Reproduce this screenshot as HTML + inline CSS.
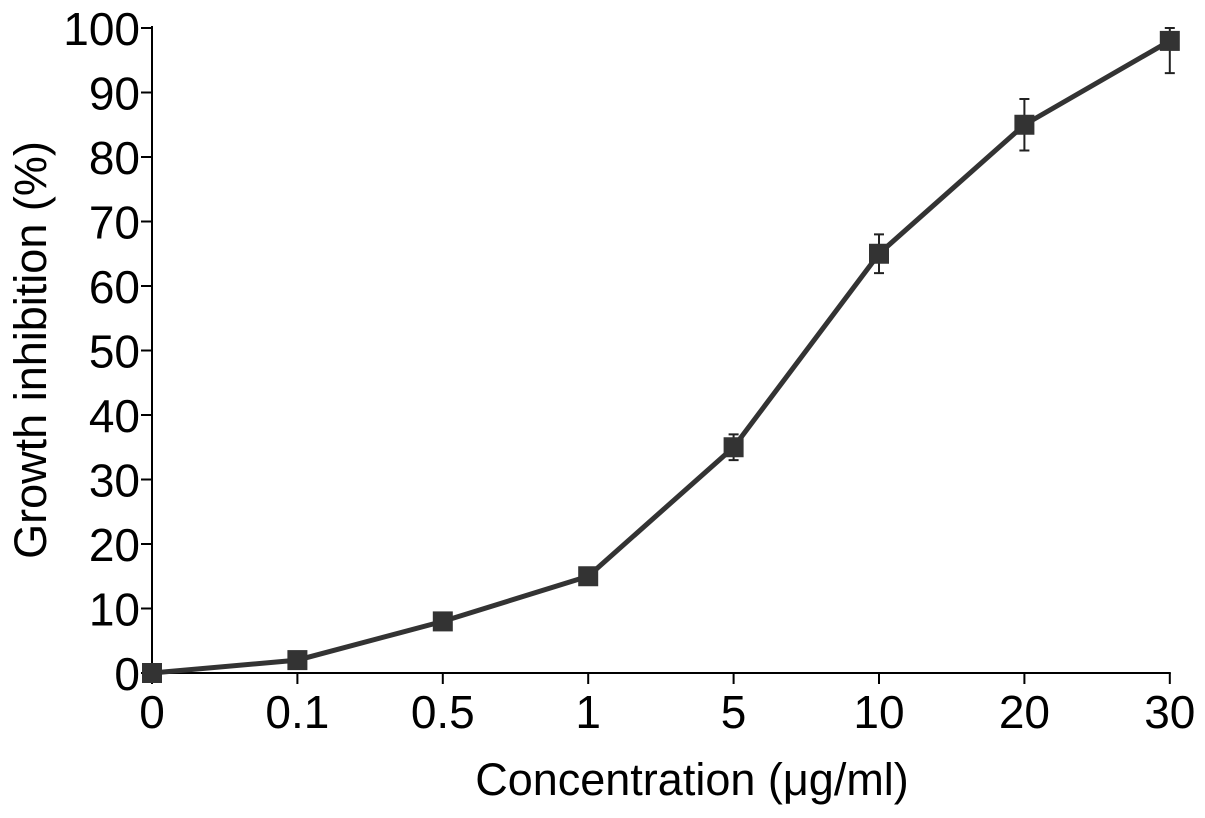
<!DOCTYPE html>
<html><head><meta charset="utf-8"><style>
body{margin:0;background:#fff;width:1205px;height:813px;overflow:hidden}
text{font-family:"Liberation Sans",Arial,sans-serif;fill:#000}
</style></head><body>
<svg id="chart" width="1205" height="813" viewBox="0 0 1205 813">
<g id="axes"></g><g id="series"></g>
<text x="692" y="795" font-size="45" text-anchor="middle">Concentration (μg/ml)</text>
<text transform="translate(46,350) rotate(-90)" font-size="45" text-anchor="middle">Growth inhibition (%)</text>
</svg>
<script>
const categories=["0","0.1","0.5","1","5","10","20","30"];
const values=[0,2,8,15,35,65,85,98];
const errors=[0,0,0,0,2,3,4,5];
const yTicks=[0,10,20,30,40,50,60,70,80,90,100];
const NS="http://www.w3.org/2000/svg";
const x0=152,dx=145.4,yB=673,yT=28;
const xs=i=>x0+i*dx;
const ys=v=>yB-(v/100)*(yB-yT);
function mk(tag,attrs,parent,txt){const e=document.createElementNS(NS,tag);for(const k in attrs)e.setAttribute(k,attrs[k]);if(txt!==undefined)e.textContent=txt;parent.appendChild(e);return e;}
const ax=document.getElementById('axes'),se=document.getElementById('series');
let l=mk('line',{x1:x0,y1:yB,x2:xs(categories.length-1)+1,y2:yB,stroke:'#000','stroke-width':2},ax);


l=mk('line',{x1:x0,y1:yB+1,x2:x0,y2:yT-2,stroke:'#000','stroke-width':2},ax);


yTicks.forEach(v=>{
 mk('line',{x1:x0-11,y1:ys(v),x2:x0,y2:ys(v),stroke:'#000','stroke-width':2},ax);
 const t=mk('text',{x:x0-12,y:ys(v)+17,'font-size':46,'text-anchor':'end'},ax,v);
 
 
});
categories.forEach((c,i)=>{
 mk('line',{x1:xs(i),y1:yB,x2:xs(i),y2:yB+11,stroke:'#000','stroke-width':2},ax);
 const t=mk('text',{x:xs(i),y:yB+55,'font-size':46,'text-anchor':'middle'},ax,c);
 
 
});
const pl=mk('polyline',{points:values.map((v,i)=>xs(i)+','+ys(v)).join(' '),fill:'none',stroke:'#333','stroke-width':5},se);


values.forEach((v,i)=>{
 if(errors[i]>0){
  const top=Math.max(0,v-errors[i]),hi=Math.min(100,v+errors[i]);
  const e=mk('path',{d:`M${xs(i)},${ys(hi)}V${ys(top)}M${xs(i)-5},${ys(hi)}h10M${xs(i)-5},${ys(top)}h10`,stroke:'#222','stroke-width':2,fill:'none'},se);
  
  
 }
 const r=mk('rect',{x:xs(i)-10,y:ys(v)-10,width:20,height:20,fill:'#333'},se);
 
 
});
</script>
</body></html>
